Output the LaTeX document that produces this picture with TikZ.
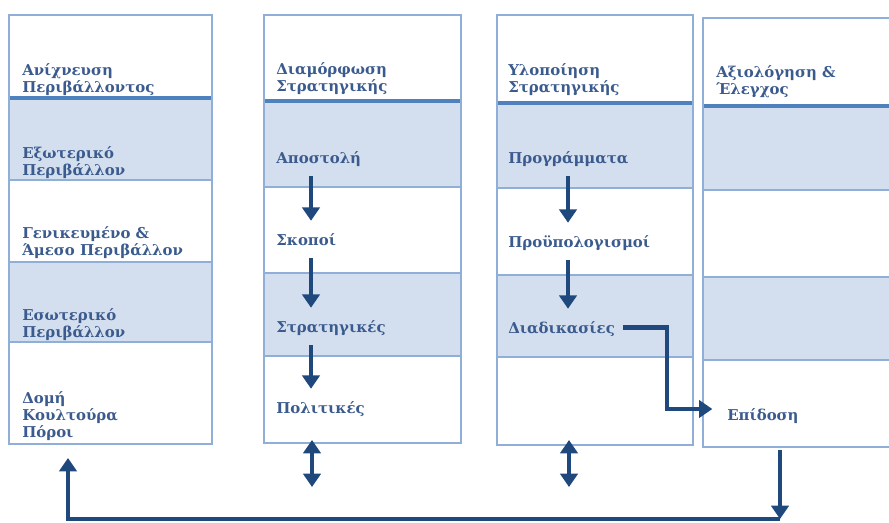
\documentclass[tikz,border=0pt]{standalone}
\usepackage{fontspec}
\setmainfont{DejaVu Serif}
\usepackage{xcolor}
\usetikzlibrary{arrows.meta,calc}

\definecolor{gridline}{HTML}{8FAED8}
\definecolor{headline}{HTML}{4F81BD}
\definecolor{cellfill}{HTML}{D3DFEE}
\definecolor{textblue}{HTML}{3B5B8E}
\definecolor{arrowblue}{HTML}{1F497D}

\begin{document}
\begin{tikzpicture}[x=0.75pt,y=-0.75pt]

    % --- DEFINE STYLES ---
    % Style for the texts in the columns (anchored at the last line)
    \tikzstyle{celltext} = [anchor=base west, inner sep=0pt, text=textblue, align=left,
                            font=\bfseries\fontsize{11.2}{12.75}\selectfont]
    % Style for single-line items that arrows run between
    \tikzstyle{item} = [celltext, text height=18pt, text depth=9.75pt]
    % Style for the flow arrows
    \tikzstyle{flow} = [draw=arrowblue, line width=3.2pt, -{Triangle[width=13pt,length=10pt]}]
    % Style for the two-headed arrows
    \tikzstyle{dflow} = [flow, {Triangle[width=13pt,length=10pt]}-{Triangle[width=13pt,length=10pt]}]

    \clip (0,0) rectangle (889,522);

    % --- DRAW THE FOUR COLUMNS ---
    \foreach \n/\xa/\xb/\ya/\yb/\yc/\yd/\ye/\yf in
        {1/9/212/15/98/180/262/342/444,
         2/264/461/15/101/187/273/356/443,
         3/497/693/15/103/188/275/357/445,
         4/703/900/18/106/190/277/360/447} {
        % shaded rows
        \fill[cellfill] (\xa,\yb) rectangle (\xb,\yc);
        \fill[cellfill] (\xa,\yd) rectangle (\xb,\ye);
        % row lines
        \draw[gridline, line width=1.5pt] (\xa,\yc) -- (\xb,\yc) (\xa,\yd) -- (\xb,\yd) (\xa,\ye) -- (\xb,\ye);
        % header line
        \draw[headline, line width=2.4pt] (\xa,\yb) -- (\xb,\yb);
        % frame
        \draw[gridline, line width=1.2pt] (\xa,\ya) rectangle (\xb,\yf);
    }

    % --- TEXTS ---
    % Column 1
    \node[celltext] (scan) at (22,92) {Ανίχνευση\\Περιβάλλοντος};
    \node[celltext] (ext) at (22,175) {Εξωτερικό\\Περιβάλλον};
    \node[celltext] (gen) at (22,255) {Γενικευμένο \&\\Άμεσο Περιβάλλον};
    \node[celltext] (int) at (22,337) {Εσωτερικό\\Περιβάλλον};
    \node[celltext] (res) at (22,437) {Δομή\\Κουλτούρα\\Πόροι};
    % Column 2
    \node[celltext] (form) at (276,91) {Διαμόρφωση\\Στρατηγικής};
    \node[item] (mission) at (276,163) {Αποστολή};
    \node[item] (goals) at (276,245) {Σκοποί};
    \node[item] (strat) at (276,332) {Στρατηγικές};
    \node[item] (policy) at (276,413) {Πολιτικές};
    % Column 3
    \node[celltext] (impl) at (508,92) {Υλοποίηση\\Στρατηγικής};
    \node[item] (prog) at (508,163) {Προγράμματα};
    \node[item] (budget) at (508,247) {Προϋπολογισμοί};
    \node[item] (proc) at (508,333) {Διαδικασίες};
    % Column 4
    \node[celltext] (eval) at (716,94) {Αξιολόγηση \&\\Έλεγχος};
    \node[item] (perf) at (727,420) {Επίδοση};

    % --- ARROWS ---
    \coordinate (a2) at (311,0);
    \coordinate (a3) at (568,0);
    \draw[flow] (mission.south -| a2) -- (goals.north -| a2);
    \draw[flow] (goals.south -| a2) -- (strat.north -| a2);
    \draw[flow] (strat.south -| a2) -- (policy.north -| a2);
    \draw[flow] (prog.south -| a3) -- (budget.north -| a3);
    \draw[flow] (budget.south -| a3) -- (proc.north -| a3);

    % elbow to the last column
    \coordinate (bend) at (667,409);
    \draw[flow, shorten >=11pt] ([xshift=6pt]proc.east) -| (bend) -- (perf.west |- bend);

    % two-headed arrows below columns 2 and 3
    \coordinate (d2top) at (312,440);
    \coordinate (d2bot) at (312,487);
    \coordinate (d3top) at (569,440);
    \coordinate (d3bot) at (569,487);
    \draw[dflow] (d2top) -- (d2bot);
    \draw[dflow] (d3top) -- (d3bot);

    % feedback loop
    \coordinate (fbtop) at (780,450);
    \coordinate (fbbot) at (780,519);
    \coordinate (fbleft) at (68,519);
    \coordinate (fbend) at (68,458);
    \draw[flow] (fbtop) -- (fbbot);
    \draw[flow] (fbbot) -- (fbleft) -- (fbend);

\end{tikzpicture}
\end{document}
